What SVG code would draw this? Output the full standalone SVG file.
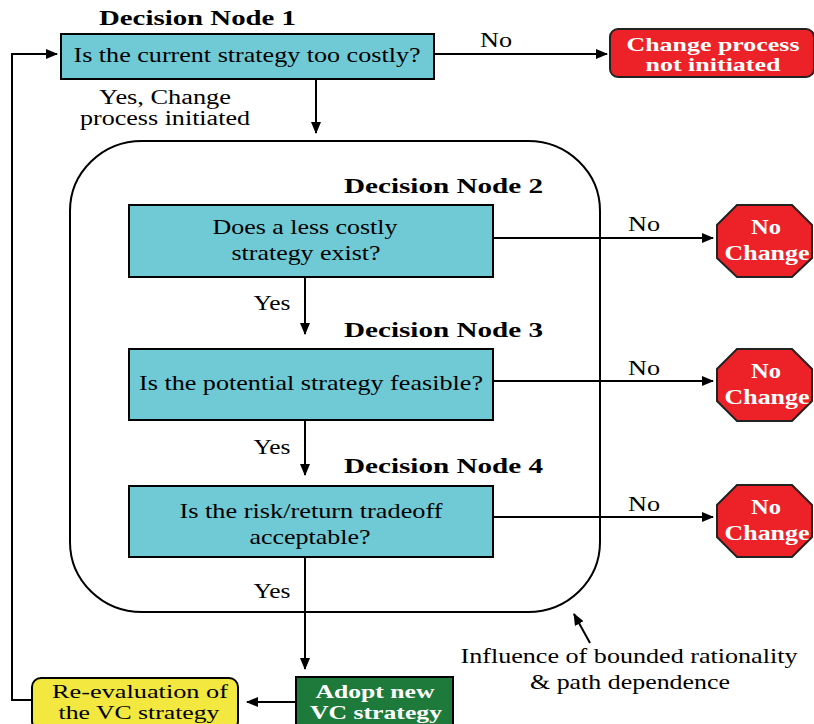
<svg xmlns="http://www.w3.org/2000/svg" width="814" height="724" viewBox="0 0 814 724" font-family="'Liberation Serif','Times New Roman',serif">
<style>
text{font-family:"Liberation Serif","Times New Roman",serif;}
.lbl{font-size:22px;font-weight:bold;fill:#000;}
.q{font-size:21px;fill:#000;text-anchor:middle;}
.w{font-size:21px;font-weight:bold;fill:#fff;text-anchor:middle;}
.w2{font-size:19px;font-weight:bold;fill:#fff;text-anchor:middle;}
.t{font-size:20px;fill:#000;text-anchor:middle;}
.t2{font-size:19px;fill:#000;text-anchor:middle;}
.box{fill:#70CAD6;stroke:#000;stroke-width:2;}
.red{fill:#ED2228;stroke:#222;stroke-width:2;}
.ln{fill:none;stroke:#000;stroke-width:2;}
</style>
<defs>
<marker id="ah" markerUnits="userSpaceOnUse" markerWidth="12" markerHeight="10" refX="11" refY="5" orient="auto">
<path d="M0,0 L12,5 L0,10 Z" fill="#000"/>
</marker>
</defs>
<g id="region">
<rect x="70" y="141" width="530" height="471" rx="72" ry="70" fill="none" stroke="#000" stroke-width="2"/>
</g>
<g id="connectors">
<polyline class="ln" points="32,700 12,700 12,54 57,54" marker-end="url(#ah)"/>
<line class="ln" x1="434" y1="54" x2="607" y2="54" marker-end="url(#ah)"/>
<line class="ln" x1="316" y1="79" x2="316" y2="133" marker-end="url(#ah)"/>
<line class="ln" x1="493" y1="238" x2="713" y2="238" marker-end="url(#ah)"/>
<line class="ln" x1="305" y1="277" x2="305" y2="334" marker-end="url(#ah)"/>
<line class="ln" x1="493" y1="381" x2="713" y2="381" marker-end="url(#ah)"/>
<line class="ln" x1="305" y1="420" x2="305" y2="475" marker-end="url(#ah)"/>
<line class="ln" x1="493" y1="517" x2="713" y2="517" marker-end="url(#ah)"/>
<line class="ln" x1="305" y1="557" x2="305" y2="669" marker-end="url(#ah)"/>
<line class="ln" x1="296" y1="702" x2="247" y2="702" marker-end="url(#ah)"/>
<line class="ln" x1="590" y1="643" x2="574" y2="614" marker-end="url(#ah)"/>
<text class="t" x="496" y="47" textLength="32" lengthAdjust="spacingAndGlyphs">No</text>
<text class="t" x="165" y="104" textLength="132" lengthAdjust="spacingAndGlyphs">Yes, Change</text>
<text class="t" x="165" y="125" textLength="170" lengthAdjust="spacingAndGlyphs">process initiated</text>
<text class="t" x="644" y="231" textLength="32" lengthAdjust="spacingAndGlyphs">No</text>
<text class="t" x="644" y="375" textLength="32" lengthAdjust="spacingAndGlyphs">No</text>
<text class="t" x="644" y="511" textLength="32" lengthAdjust="spacingAndGlyphs">No</text>
<text class="t" x="272" y="310" textLength="37" lengthAdjust="spacingAndGlyphs">Yes</text>
<text class="t" x="272" y="454" textLength="37" lengthAdjust="spacingAndGlyphs">Yes</text>
<text class="t" x="272" y="598" textLength="37" lengthAdjust="spacingAndGlyphs">Yes</text>
</g>
<g id="node1">
<text class="lbl" x="99" y="25" textLength="197" lengthAdjust="spacingAndGlyphs">Decision Node 1</text>
<rect class="box" x="61" y="34" width="373" height="45"/>
<text class="q" x="247" y="62" textLength="347" lengthAdjust="spacingAndGlyphs">Is the current strategy too costly?</text>
</g>
<g id="not-initiated">
<rect class="red" x="610" y="29" width="204" height="48" rx="8"/>
<text class="w2" x="713" y="51" textLength="173" lengthAdjust="spacingAndGlyphs">Change process</text>
<text class="w2" x="713" y="71" textLength="135" lengthAdjust="spacingAndGlyphs">not initiated</text>
</g>
<g id="node2">
<text class="lbl" x="344" y="193" textLength="199" lengthAdjust="spacingAndGlyphs">Decision Node 2</text>
<rect class="box" x="129" y="205" width="364" height="72"/>
<text class="q" x="305" y="234" textLength="185" lengthAdjust="spacingAndGlyphs">Does a less costly</text>
<text class="q" x="306" y="260" textLength="149" lengthAdjust="spacingAndGlyphs">strategy exist?</text>
</g>
<g id="nochange1">
<polygon class="red" points="737,205 792,205 812,225 812,258 792,277 737,277 717,258 717,225"/>
<text class="w" x="766" y="234" textLength="30" lengthAdjust="spacingAndGlyphs">No</text>
<text class="w" x="767" y="260" textLength="85" lengthAdjust="spacingAndGlyphs">Change</text>
</g>
<g id="node3">
<text class="lbl" x="344" y="337" textLength="199" lengthAdjust="spacingAndGlyphs">Decision Node 3</text>
<rect class="box" x="129" y="349" width="364" height="71"/>
<text class="q" x="311" y="390" textLength="344" lengthAdjust="spacingAndGlyphs">Is the potential strategy feasible?</text>
</g>
<g id="nochange2">
<polygon class="red" points="737,349 792,349 812,369 812,401 792,421 737,421 717,401 717,369"/>
<text class="w" x="766" y="378" textLength="30" lengthAdjust="spacingAndGlyphs">No</text>
<text class="w" x="767" y="404" textLength="85" lengthAdjust="spacingAndGlyphs">Change</text>
</g>
<g id="node4">
<text class="lbl" x="344" y="473" textLength="199" lengthAdjust="spacingAndGlyphs">Decision Node 4</text>
<rect class="box" x="129" y="486" width="364" height="71"/>
<text class="q" x="311" y="518" textLength="263" lengthAdjust="spacingAndGlyphs">Is the risk/return tradeoff</text>
<text class="q" x="310" y="544" textLength="121" lengthAdjust="spacingAndGlyphs">acceptable?</text>
</g>
<g id="nochange3">
<polygon class="red" points="737,485 792,485 812,505 812,537 792,557 737,557 717,537 717,505"/>
<text class="w" x="766" y="514" textLength="30" lengthAdjust="spacingAndGlyphs">No</text>
<text class="w" x="767" y="540" textLength="85" lengthAdjust="spacingAndGlyphs">Change</text>
</g>
<g id="adopt">
<rect x="296" y="677" width="157" height="52" fill="#1D7A3B" stroke="#000" stroke-width="2"/>
<text class="w2" x="375" y="698" textLength="119" lengthAdjust="spacingAndGlyphs">Adopt new</text>
<text class="w2" x="376" y="719" textLength="132" lengthAdjust="spacingAndGlyphs">VC strategy</text>
</g>
<g id="reevaluate">
<rect x="32" y="678" width="206" height="52" rx="9" fill="#F2E840" stroke="#000" stroke-width="2"/>
<text class="t2" x="140" y="698" textLength="176" lengthAdjust="spacingAndGlyphs">Re-evaluation of</text>
<text class="t2" x="139" y="719" textLength="161" lengthAdjust="spacingAndGlyphs">the VC strategy</text>
</g>
<g id="influence">
<text class="t" x="629" y="663" style="font-size:21px" textLength="337" lengthAdjust="spacingAndGlyphs">Influence of bounded rationality</text>
<text class="t" x="630" y="689" style="font-size:21px" textLength="200" lengthAdjust="spacingAndGlyphs">&amp; path dependence</text>
</g>
</svg>
